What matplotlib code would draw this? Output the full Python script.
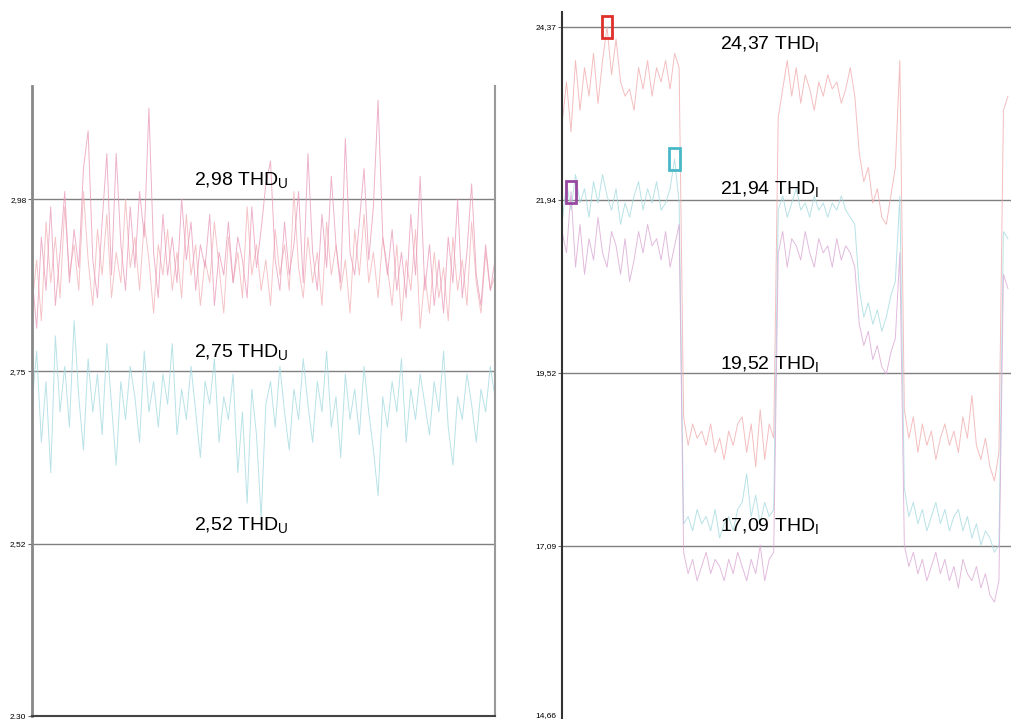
import numpy as np
import matplotlib
matplotlib.use('Agg')
import matplotlib.pyplot as plt
from matplotlib.patches import Rectangle
import matplotlib.transforms as mtrans

plt.rcParams['font.family'] = ['Liberation Sans', 'DejaVu Sans']

# ---- 左图: THD_U ----
u_red = [2.84, 2.90, 2.82, 2.95, 2.87, 2.93, 2.85, 2.97, 2.88, 2.92,
         2.86, 2.99, 2.90, 2.84, 2.94, 2.88, 2.96, 2.85, 2.91, 2.87,
         2.98, 2.89, 2.93, 2.86, 2.95, 2.90, 2.83, 2.92, 2.88, 2.94,
         2.86, 2.91, 2.85, 2.96, 2.88, 2.92, 2.84, 2.90, 2.87, 2.95,
         2.89, 2.83, 2.93, 2.87, 2.91, 2.85, 2.97, 2.88, 2.92, 2.86,
         2.90, 2.84, 2.94, 2.88, 2.92, 2.86, 2.99, 2.89, 2.85, 2.93,
         2.87, 2.91, 2.84, 2.95, 2.88, 2.92, 2.86, 2.90, 2.83, 2.94,
         2.88, 2.96, 2.87, 2.91, 2.85, 2.93, 2.89, 2.84, 2.92, 2.82,
         2.90, 2.86, 2.94, 2.81, 2.88, 2.83, 2.91, 2.85, 2.89, 2.82,
         2.93, 2.86, 2.90, 2.84, 2.95, 2.87, 2.83, 2.91, 2.86, 2.88]
u_pink = [2.88, 2.81, 2.93, 2.86, 2.97, 2.84, 2.91, 2.99, 2.87, 2.94,
          2.89, 3.02, 3.07, 2.90, 2.85, 2.95, 3.04, 2.88, 3.04, 2.92,
          2.86, 2.97, 2.89, 2.99, 2.93, 3.10, 2.91, 2.85, 2.96, 2.88,
          2.93, 2.87, 2.98, 2.90, 2.95, 2.86, 2.92, 2.89, 2.96, 2.84,
          2.91, 2.88, 2.95, 2.87, 2.93, 2.90, 2.85, 2.97, 2.89, 2.94,
          3.00, 3.03, 2.90, 2.86, 2.95, 2.88, 2.92, 2.99, 2.87, 3.04,
          2.91, 2.86, 2.96, 2.89, 3.01, 2.92, 2.87, 3.06, 2.91, 2.88,
          2.95, 3.02, 2.90, 2.97, 3.11, 2.93, 2.88, 2.94, 2.86, 2.91,
          2.85, 2.96, 2.88, 3.01, 2.86, 2.92, 2.84, 2.90, 2.83, 2.93,
          2.87, 2.98, 2.85, 2.91, 3.00, 2.88, 2.84, 2.92, 2.86, 2.90]
u_cyan = [2.71, 2.78, 2.66, 2.74, 2.62, 2.80, 2.70, 2.76, 2.68, 2.82,
          2.72, 2.65, 2.77, 2.70, 2.75, 2.67, 2.79, 2.71, 2.63, 2.74,
          2.69, 2.76, 2.72, 2.66, 2.78, 2.70, 2.74, 2.68, 2.75, 2.71,
          2.79, 2.67, 2.73, 2.69, 2.76, 2.70, 2.64, 2.74, 2.71, 2.77,
          2.66, 2.72, 2.69, 2.75, 2.62, 2.70, 2.58, 2.73, 2.67, 2.56,
          2.71, 2.74, 2.68, 2.76, 2.70, 2.65, 2.73, 2.69, 2.77, 2.71,
          2.66, 2.74, 2.70, 2.78, 2.68, 2.72, 2.64, 2.75, 2.69, 2.73,
          2.67, 2.76, 2.70, 2.65, 2.59, 2.72, 2.68, 2.74, 2.70, 2.77,
          2.66, 2.73, 2.69, 2.75, 2.71, 2.67, 2.74, 2.70, 2.78, 2.68,
          2.63, 2.72, 2.69, 2.75, 2.71, 2.66, 2.73, 2.70, 2.76, 2.72]
u_ticklabels = ['2,30', '2,52', '2,75', '2,98']

# ---- 右图: THD_I ----
i_red = [23.0, 23.6, 22.9, 23.9, 23.2, 23.8, 23.4, 24.0, 23.3, 23.9,
         24.37, 23.7, 24.2, 23.6, 23.4, 23.5, 23.2, 23.8, 23.5, 23.9,
         23.4, 23.8, 23.6, 23.9, 23.5, 24.0, 23.8,
         18.9, 18.5, 18.8, 18.6, 18.7, 18.5, 18.8, 18.4, 18.6, 18.3,
         18.7, 18.5, 18.8, 18.9, 18.4, 18.8, 18.2, 19.0, 18.3, 18.8, 18.6,
         23.1, 23.5, 23.9, 23.4, 23.8, 23.3, 23.7, 23.5, 23.2, 23.6,
         23.4, 23.7, 23.5, 23.6, 23.3, 23.5, 23.8, 23.4,
         22.6, 22.2, 22.4, 21.9, 22.1, 21.7, 21.6, 22.0, 22.4, 23.9,
         19.0, 18.6, 18.9, 18.4, 18.8, 18.5, 18.7, 18.3, 18.6, 18.8, 18.5,
         18.7, 18.4, 18.9, 18.6, 19.2, 18.5, 18.3, 18.6, 18.2, 18.0, 18.4,
         23.2, 23.4]
i_cyan = [21.6, 22.2, 21.8, 22.3, 21.9, 22.1, 21.7, 22.2, 21.9, 22.3,
          22.0, 21.8, 22.1, 21.6, 21.9, 21.7, 22.0, 22.2, 21.8, 22.1,
          21.9, 22.2, 21.8, 21.9, 22.1, 22.52, 21.9,
          17.4, 17.5, 17.3, 17.6, 17.4, 17.5, 17.3, 17.6, 17.2, 17.4,
          17.5, 17.3, 17.6, 17.7, 18.1, 17.5, 17.8, 17.4, 17.7, 17.5, 17.6,
          21.8, 22.0, 21.7, 21.9, 22.1, 21.8, 21.9, 21.7, 22.0, 21.8,
          21.9, 21.7, 21.9, 21.8, 22.0, 21.8, 21.7, 21.6,
          20.7, 20.3, 20.5, 20.2, 20.4, 20.1, 20.3, 20.6, 20.8, 22.0,
          17.9, 17.5, 17.7, 17.4, 17.6, 17.3, 17.5, 17.7, 17.4, 17.6, 17.3,
          17.5, 17.6, 17.3, 17.5, 17.2, 17.4, 17.1, 17.3, 17.2, 17.0, 17.1,
          21.5, 21.4]
i_purple = [21.5, 21.2, 22.06, 21.0, 21.6, 20.9, 21.4, 21.1, 21.7, 21.2,
            21.0, 21.5, 21.3, 20.9, 21.4, 20.8, 21.1, 21.5, 21.2, 21.6,
            21.3, 21.4, 21.1, 21.5, 21.0, 21.3, 21.6,
            17.0, 16.7, 16.9, 16.6, 16.8, 17.0, 16.7, 16.9, 16.8, 16.6,
            16.9, 16.7, 17.0, 16.8, 16.6, 16.9, 16.7, 17.1, 16.6, 16.9, 17.0,
            21.2, 21.5, 21.0, 21.4, 21.3, 21.1, 21.5, 21.2, 21.0, 21.4,
            21.2, 21.3, 21.0, 21.4, 21.1, 21.3, 21.2, 21.0,
            20.2, 19.9, 20.1, 19.7, 19.9, 19.6, 19.5, 19.8, 20.0, 21.2,
            17.1, 16.8, 17.0, 16.7, 16.9, 16.6, 16.8, 17.0, 16.7, 16.9, 16.6,
            16.8, 16.5, 16.9, 16.7, 16.6, 16.8, 16.5, 16.7, 16.4, 16.3, 16.6,
            20.9, 20.7]
i_ticklabels = ['14,66', '17,09', '19,52', '21,94', '24,37']

W, H = 1012, 719
fig = plt.figure(figsize=(W / 100, H / 100), dpi=100)

def px_axes(x0, y0, x1, y1):
    # 像素坐标 -> figure 坐标
    return fig.add_axes([x0 / W, 1 - y1 / H, (x1 - x0) / W, (y1 - y0) / H])

def style(ax, ticks, labels):
    ax.set_yticks(ticks)
    ax.set_yticklabels(labels, fontsize=6)
    ax.set_xticks([])
    ax.tick_params(axis='y', length=3, width=0.8, color='#666666', pad=1)
    for t in ticks[1:]:
        ax.axhline(t, color='#808080', lw=1, zorder=1)
    ax.spines['top'].set_visible(False)

def add_labels(ax, ticks, labels, sub, xfrac, offsets):
    trans = mtrans.blended_transform_factory(ax.transAxes, ax.transData)
    for t, lab, off in zip(ticks[1:], labels[1:], offsets):
        ax.annotate(lab + ' THD$_\\mathregular{' + sub + '}$', xy=(xfrac, t), xycoords=trans,
                    xytext=(0, off), textcoords='offset points', ha='center', va='center',
                    fontsize=14, color='black', zorder=5)

# 左图
ax1 = px_axes(32, 86, 495, 716)
xu = np.arange(len(u_red))
ax1.plot(xu, u_red, color='#f2b0b4', lw=0.7, alpha=0.75, zorder=2)
ax1.plot(xu, u_pink, color='#e898b8', lw=0.7, alpha=0.75, zorder=2)
ax1.plot(xu, u_cyan, color='#a6dbe2', lw=0.7, alpha=0.8, zorder=2)
ax1.set_xlim(0, len(u_red) - 1)
u_ticks = np.linspace(2.30, 2.98, 4)
ax1.set_ylim(2.30, 2.30 + (u_ticks[1] - u_ticks[0]) * 630 / 172.3)
style(ax1, u_ticks, u_ticklabels)
ax1.spines['left'].set_color('#888888')
ax1.spines['left'].set_linewidth(2)
ax1.spines['right'].set_color('#999999')
ax1.spines['right'].set_linewidth(1.5)
ax1.spines['bottom'].set_color('#444444')
ax1.spines['bottom'].set_linewidth(1.5)
add_labels(ax1, u_ticks, u_ticklabels, 'U', 0.452, [13, 13, 13])

# 右图
ax2 = px_axes(562, 12, 1012, 719)
xi = np.arange(len(i_red))
ax2.plot(xi, i_red, color='#f0a8aa', lw=0.7, alpha=0.75, zorder=2)
ax2.plot(xi, i_cyan, color='#a6dbe0', lw=0.7, alpha=0.8, zorder=2)
ax2.plot(xi, i_purple, color='#d8a4d2', lw=0.7, alpha=0.75, zorder=2)
ax2.set_xlim(0, len(i_red) - 0.1)
i_ticks = np.linspace(14.66, 24.37, 5)
ax2.set_ylim(14.66, 14.66 + (i_ticks[1] - i_ticks[0]) * 707 / 173)
style(ax2, i_ticks, i_ticklabels)
ax2.spines['left'].set_color('#333333')
ax2.spines['left'].set_linewidth(1.5)
ax2.spines['right'].set_visible(False)
ax2.spines['bottom'].set_visible(False)
add_labels(ax2, i_ticks, i_ticklabels, 'I', 0.46, [14, 6, 7, -13])
# 最下面的刻度标签稍微上移, 避免被裁掉
lab0 = ax2.get_yticklabels()[0]
lab0.set_transform(lab0.get_transform() + mtrans.ScaledTranslation(0, 4 / 100, fig.dpi_scale_trans))

# 最大值标记框
for series, col in [(i_red, '#e0302a'), (i_cyan, '#48b8c8'), (i_purple, '#9848a0')]:
    k = int(np.argmax(series))
    ax2.add_patch(Rectangle((k - 1.2, series[k] - 0.155), 2.4, 0.31, fill=False,
                            edgecolor=col, lw=2, zorder=4))

fig.savefig('out.png', dpi=100)
